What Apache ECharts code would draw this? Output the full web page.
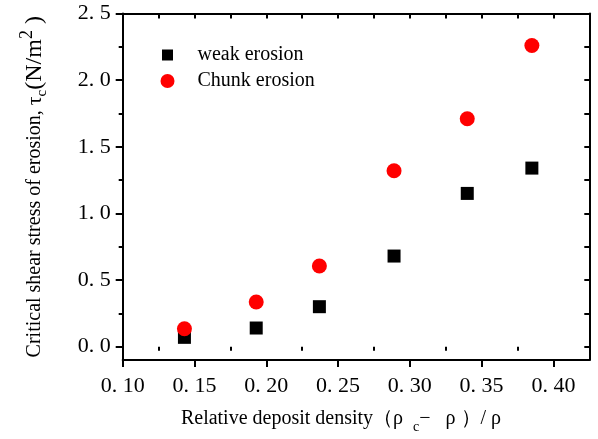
<!DOCTYPE html>
<html>
<head>
<meta charset="utf-8">
<script src="https://cdn.jsdelivr.net/npm/echarts@6/dist/echarts.min.js"></script>
<style>
html,body{margin:0;padding:0;background:#fff;}
#chart{width:598px;height:439px;}
</style>
</head>
<body>
<div id="chart"></div>
<script>
// ---- data ----
const xValues = [0.143, 0.193, 0.237, 0.289, 0.340, 0.385];
const weakErosion = [0.07, 0.14, 0.30, 0.68, 1.15, 1.34];
const chunkErosion = [0.135, 0.335, 0.605, 1.32, 1.71, 2.26];
const seriesNames = ['weak erosion', 'Chunk erosion'];

// ---- axis ticks ----
const xTickValues = [0.10, 0.15, 0.20, 0.25, 0.30, 0.35, 0.40];
const xTickLabels = ['0. 10', '0. 15', '0. 20', '0. 25', '0. 30', '0. 35', '0. 40'];
const xMinorValues = [0.125, 0.175, 0.225, 0.275, 0.325, 0.375];
const xTopValues = [0.125, 0.15, 0.175, 0.20, 0.225, 0.25, 0.275, 0.30, 0.325, 0.35, 0.375, 0.40];
const yTickValues = [0.0, 0.5, 1.0, 1.5, 2.0, 2.5];
const yTickLabels = ['0. 0', '0. 5', '1. 0', '1. 5', '2. 0', '2. 5'];
const yMinorValues = [0.25, 0.75, 1.25, 1.75, 2.25];
const yRightValues = [0.0, 0.25, 0.5, 0.75, 1.0, 1.25, 1.5, 1.75, 2.0, 2.25];

const X_MIN = 0.10, X_MAX = 0.425, Y_MIN = -0.1, Y_MAX = 2.5;
const FONT = '"Liberation Serif", "Times New Roman", serif';

function pick(values, labels) {
  return function (v) {
    let best = 0, bd = Infinity;
    values.forEach((t, i) => { const d = Math.abs(t - v); if (d < bd) { bd = d; best = i; } });
    return labels[best];
  };
}

const black = '#000';
const lineStyle = { color: black, width: 2 };

const chart = echarts.init(document.getElementById('chart'), null, { renderer: 'canvas' });

const xRich = {
  m: { fontFamily: FONT, fontSize: 20, color: black, lineHeight: 30 },
  sub: { fontFamily: FONT, fontSize: 14, color: black, verticalAlign: 'bottom' }
};
const yRich = {
  m: { fontFamily: FONT, fontSize: 20, color: black, lineHeight: 34 },
  t: { fontFamily: FONT, fontSize: 22, color: black, lineHeight: 34 },
  b: { fontFamily: FONT, fontSize: 24, color: black, lineHeight: 34 },
  sub: { fontFamily: FONT, fontSize: 15, color: black, verticalAlign: 'bottom', padding: [0, 0, 2, 0] },
  sup: { fontFamily: FONT, fontSize: 18, color: black, verticalAlign: 'top' }
};

const legendSquare = 'path://M0,0L0,0M14,14L14,14M1.5,1.5L12.5,1.5L12.5,12.5L1.5,12.5Z';

chart.setOption({
  animation: false,
  backgroundColor: '#fff',
  grid: { left: 122.7, right: 8.7, top: 13.5, bottom: 78.3, containLabel: false },
  legend: {
    orient: 'vertical',
    left: 155.5,
    top: 40,
    itemWidth: 50,
    itemHeight: 14,
    itemGap: 6,
    symbolKeepAspect: true,
    data: [
      { name: seriesNames[0], icon: legendSquare },
      { name: seriesNames[1], icon: 'circle' }
    ],
    textStyle: { fontFamily: FONT, fontSize: 20, color: black }
  },
  xAxis: [
    {
      type: 'value', position: 'bottom', min: X_MIN, max: X_MAX,
      axisLine: { show: true, onZero: false, lineStyle: lineStyle },
      axisTick: { show: true, customValues: xTickValues, length: 7, lineStyle: lineStyle },
      axisLabel: {
        customValues: xTickValues, formatter: pick(xTickValues, xTickLabels),
        fontFamily: FONT, fontSize: 22, color: black, margin: 15
      },
      splitLine: { show: false },
      name: '{m|Relative deposit density（ρ  }{sub|c}{m|−   ρ ）/ ρ}',
      nameLocation: 'middle',
      nameGap: 44,
      nameTextStyle: { rich: xRich, padding: [0, 30, 0, 0] }
    },
    {
      type: 'value', position: 'bottom', min: X_MIN, max: X_MAX,
      axisLine: { show: false },
      axisTick: { show: true, customValues: xMinorValues, length: 4, lineStyle: lineStyle },
      axisLabel: { show: false }, splitLine: { show: false }
    },
    {
      type: 'value', position: 'top', min: X_MIN, max: X_MAX,
      axisLine: { show: true, onZero: false, lineStyle: lineStyle },
      axisTick: { show: true, inside: true, customValues: xTopValues, length: 5, lineStyle: lineStyle },
      axisLabel: { show: false }, splitLine: { show: false }
    }
  ],
  yAxis: [
    {
      type: 'value', position: 'left', min: Y_MIN, max: Y_MAX,
      axisLine: { show: true, onZero: false, lineStyle: lineStyle },
      axisTick: { show: true, customValues: yTickValues, length: 7, lineStyle: lineStyle },
      axisLabel: {
        customValues: yTickValues, formatter: pick(yTickValues, yTickLabels),
        fontFamily: FONT, fontSize: 22, color: black, margin: 12
      },
      splitLine: { show: false },
      name: '{m|Critical shear stress of erosion, }{t|τ}{sub|c}{b|(N/m}{sup|2}{b| )}',
      nameLocation: 'middle',
      nameRotate: 90,
      nameGap: 70.7,
      nameTextStyle: { rich: yRich }
    },
    {
      type: 'value', position: 'left', min: Y_MIN, max: Y_MAX,
      axisLine: { show: false },
      axisTick: { show: true, customValues: yMinorValues, length: 4, lineStyle: lineStyle },
      axisLabel: { show: false }, splitLine: { show: false }
    },
    {
      type: 'value', position: 'right', min: Y_MIN, max: Y_MAX,
      axisLine: { show: true, onZero: false, lineStyle: lineStyle },
      axisTick: { show: true, inside: true, customValues: yRightValues, length: 5, lineStyle: lineStyle },
      axisLabel: { show: false }, splitLine: { show: false }
    }
  ],
  series: [
    {
      name: seriesNames[0], type: 'scatter', xAxisIndex: 0, yAxisIndex: 0,
      symbol: 'rect', symbolSize: 13, symbolKeepAspect: true,
      itemStyle: { color: '#000', opacity: 1 },
      data: xValues.map((x, i) => [x, weakErosion[i]])
    },
    {
      name: seriesNames[1], type: 'scatter', xAxisIndex: 0, yAxisIndex: 0,
      symbol: 'circle', symbolSize: 15, symbolKeepAspect: true,
      itemStyle: { color: '#ff0000', opacity: 1 },
      data: xValues.map((x, i) => [x, chunkErosion[i]])
    }
  ]
});
</script>
</body>
</html>
